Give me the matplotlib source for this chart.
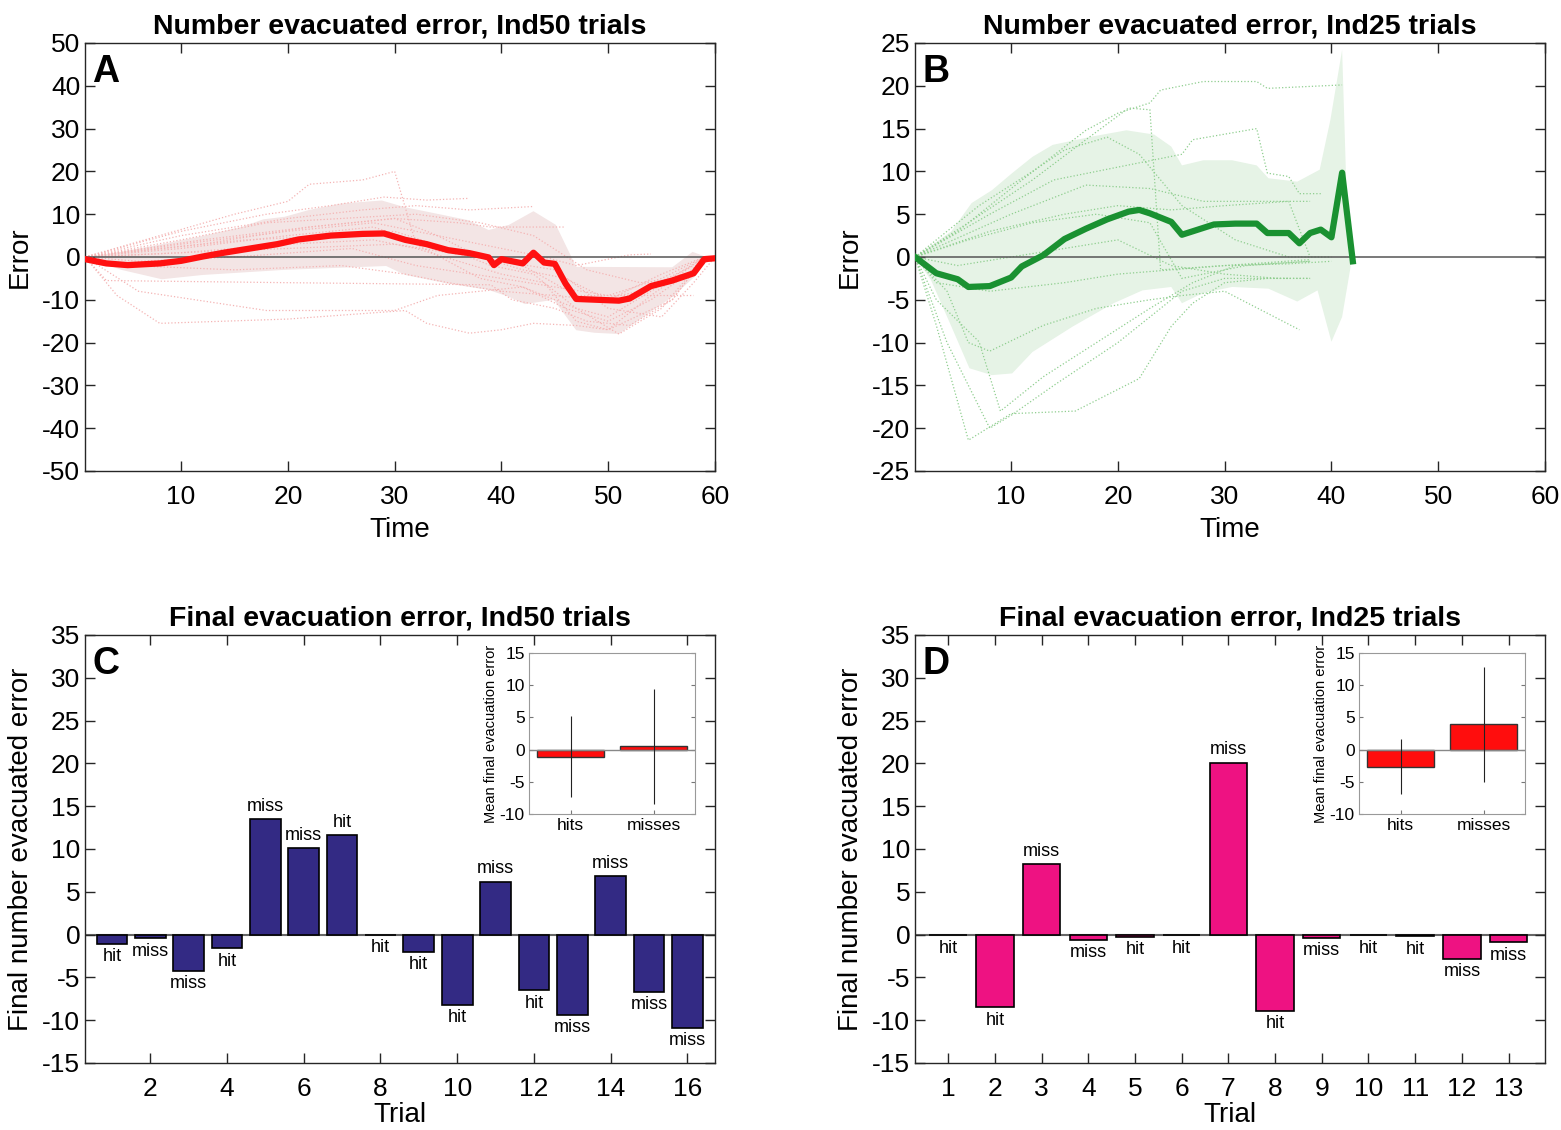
import matplotlib.pyplot as plt

plt.rcParams['font.family'] = ['Liberation Sans', 'DejaVu Sans']
plt.rcParams['axes.unicode_minus'] = False

# ---- panel A: Ind50 error over time ----
mean_a_t = [1, 3, 5, 8, 10, 12, 14, 17, 19, 21, 24, 27, 29, 31, 33, 35, 37, 38.8, 39.3, 40, 42, 43, 44, 45, 46, 47,
            49, 51, 52, 54, 56, 58, 59, 60]
mean_a_v = [-0.5, -1.5, -1.9, -1.5, -0.9, 0.1, 1.0, 2.2, 3.0, 4.1, 5.0, 5.4, 5.5, 4.0, 3.0, 1.6, 0.9, -0.1, -1.9, -0.5,
            -1.5, 1.0, -1.3, -1.6, -6.2, -9.8, -10.0, -10.2, -9.7, -6.8, -5.5, -3.8, -0.5, -0.3]
band_a_t = [1, 4.4, 8.2, 12, 15.8, 17.7, 19.7, 22, 25, 28.8, 31, 33, 36.9, 38.8, 40.7, 43, 45.1, 47, 56, 57.9, 59.2,
            59.2, 58.1, 56, 52.9, 51, 48.7, 47, 44.9, 42.2, 40.7, 38.8, 35, 31, 29.2, 19.7, 12, 8.2, 4.4, 1]
band_a_v = [0, 1.2, 3.0, 4.9, 7.1, 8.8, 9.4, 11.0, 12.5, 13.2, 11.6, 10.6, 8.6, 6.3, 7.5, 10.7, 7.5, -2.3, -2.4, 1.2, 0,
            0, -4.6, -9.3, -14.7, -18.0, -17.7, -17.1, -10.0, -11.0, -9.3, -7.7, -6.2, -4.2, -2.1, -3.0, -4.2, -5.2, -3.0, 0]
trials_a_t = [
    [1, 8, 15, 20, 22, 27, 30, 32, 35, 38, 42, 47, 50, 54, 59],
    [1, 4, 8, 20, 31, 33, 37, 40, 43, 47, 50, 54, 59],
    [1, 3, 20, 39, 41, 45, 48, 52, 56, 59],
    [1, 6, 18, 30, 34, 38, 42, 46, 50, 54, 58, 60],
    [1, 10, 18, 24, 29, 33, 37],
    [1, 10, 20, 27, 32, 37, 43],
    [1, 12, 22, 30, 36, 39, 46],
    [1, 10, 20, 28, 34, 40, 44, 47, 52, 54],
    [1, 10, 20, 28, 33, 38, 42, 47, 52, 58],
    [1, 8, 16, 25, 30, 35, 39, 43, 47, 51, 55, 59],
    [1, 10, 20, 28, 32, 36, 40, 44, 47, 50, 56, 59],
    [1, 12, 22, 30, 34, 38, 42, 46, 50, 55, 59],
    [1, 5, 15, 25, 31, 35, 40, 45, 49, 53, 58],
    [1, 10, 18, 25, 32, 38, 43, 48, 53, 57, 59],
    [1, 6, 15, 26, 32, 40, 45, 50, 55, 59],
    [1, 10, 20, 30, 35, 40, 45, 50, 55, 58, 60],
]
trials_a_v = [
    [0, 5, 10, 13, 17, 18, 20, 3, -1, -5, -7, -12, -14, -8, 0],
    [0, -9, -15.5, -14.5, -12.5, -15.5, -17.8, -17, -15.5, -16, -17, -9, 0],
    [0, -5.5, -6, -6.5, -10, -12, -15, -16, -10, 0],
    [0, -8, -12.5, -12.5, -9, -8, -7, -12, -15, -10, -3, 0],
    [0, 6, 10, 12, 14, 13.3, 13.7],
    [0, 5, 9, 11, 12, 11, 11.8],
    [0, 4, 7, 9, 8, 7, 7],
    [0, 3, 6, 8, 5, 2, 0, -2, 0.5, 0.7],
    [0, 2, 5, 7, 3, 0, -2, -9, -9, -9],
    [0, 2, 4, 5, 6, 2, -2, -4, -12, -18, -12, 0],
    [0, 1, 3, 4, 2, -1, -4, -6, -15, -17, -10, 0],
    [0, 3, 7, 9, 5, 0, -3, -5, -10, -4, 0],
    [0, -2, -3, -2, -4, -6, -8, -9, -10, -8, -2],
    [0, 4, 8, 9, 10, 8, 5, -3, -6, -5, 0],
    [0, -1, 0, 2, -2, -5, -7, -9, -5, 0],
    [0, 1, 2, 3, 1, -1, -3, -12, -14, -6, 0],
]

# ---- panel B: Ind25 error over time ----
mean_b_t = [1, 3, 5, 6, 8, 10, 11, 13, 15, 17, 19, 21, 22, 23, 25, 26, 27, 29, 31, 33, 34, 36, 37, 38, 39, 40, 41, 42]
mean_b_v = [0, -1.9, -2.6, -3.5, -3.4, -2.4, -1.1, 0.2, 2.1, 3.3, 4.4, 5.3, 5.5, 5.1, 4.1, 2.6, 3.0, 3.8, 3.9, 3.9, 2.8,
            2.8, 1.6, 2.8, 3.2, 2.3, 9.85, -0.5]
band_b_t = [1, 4.4, 6.3, 8.2, 10.1, 12, 13.9, 17.7, 20.8, 23.4, 25, 26, 28, 30.7, 33, 34.1, 36.8, 38.9, 39.9, 41, 41.6,
            41.8, 41, 40, 38.7, 36.8, 34.1, 30.7, 28, 26, 25, 22.3, 19.6, 15.8, 12, 10.1, 8.2, 6.1, 4.4, 2.5, 1]
band_b_v = [0, 3.0, 6.3, 7.8, 9.8, 11.7, 13.1, 14.1, 14.8, 14.3, 12.9, 10.7, 11.3, 11.3, 10.7, 9.2, 8.8, 10.2, 16.0,
            24.2, 0, -1.1, -7.0, -9.9, -3.9, -5.2, -3.7, -3.5, -4.2, -5.4, -3.5, -3.9, -5.4, -8.1, -11.1, -13.6, -13.8,
            -13.0, -8.1, -2.7, 0]
trials_b_t = [
    [1, 5, 10, 17, 20, 23, 24, 28, 33, 34, 41],
    [1, 6, 12, 17, 21, 23, 24, 30, 38],
    [1, 8, 14, 18, 22, 26, 27, 33, 34, 36, 37, 39],
    [1, 10, 17, 23, 28, 34, 38],
    [1, 8, 15, 20, 25, 30, 36, 38],
    [1, 7, 12, 15, 19, 22, 26, 31, 36, 40],
    [1, 3, 6, 10, 16, 22, 25, 27, 30, 34, 38],
    [1, 4, 8, 10, 14, 20, 24, 26, 30, 36],
    [1, 3, 7, 9, 13, 18, 23, 27, 31, 38],
    [1, 4, 6, 8, 13, 18, 23, 26, 30, 37],
    [1, 3, 8, 15, 20, 25, 30, 36, 40],
    [1, 5, 10, 15, 20, 25, 30, 35, 38],
    [1, 6, 12, 18, 23, 26, 32, 38],
]
trials_b_v = [
    [0, 3, 8, 14.8, 16.8, 18, 19.5, 20.5, 20.5, 19.7, 20.1],
    [0, 4, 9, 13.7, 17.4, 17.2, -1.5, -1.0, -0.3],
    [0, 5, 9, 10, 11, 12, 13.7, 15, 9.8, 9.4, 7.4, 7.4],
    [0, 5, 8.4, 8.0, 6.5, 6.5, 6.5],
    [0, 3, 5, 6, 5.5, 6, 6.5, 0],
    [0, 6, 10, 12.5, 14, 12, 6, 2, 0, 0],
    [0, -8, -21.4, -18.3, -18, -14.2, -8.1, -5.4, -3, -2.5, -2.5],
    [0, -10, -20, -18.5, -15, -10, -6, -4, -2.5, -2.5],
    [0, -5, -9.9, -18, -14, -10, -6, -3, -1, -0.5],
    [0, -4, -10, -11, -8, -6, -5, -4.5, -4, -8.5],
    [0, -3, -4, -3, -2, -1.5, -1, -0.8, -0.5],
    [0, -1, 0, 1, 2, -1, -2, -2.5, -2.5],
    [0, 2, 4, 5, 4, -2.5, -1, -0.5],
]

# ---- panels C, D: final error per trial ----
trial_c = list(range(1, 17))
final_c = [-1.05, -0.43, -4.2, -1.6, 13.46, 10.08, 11.6, -0.05, -2.0, -8.17, 6.2, -6.5, -9.4, 6.85, -6.65, -10.86]
outcome_c = ['hit', 'miss', 'miss', 'hit', 'miss', 'miss', 'hit', 'hit', 'hit', 'hit', 'miss', 'hit', 'miss',
             'miss', 'miss', 'miss']
trial_d = list(range(1, 14))
final_d = [-0.08, -8.5, 8.25, -0.6, -0.25, -0.1, 20.08, -8.9, -0.35, -0.1, -0.2, -2.8, -0.9]
outcome_d = ['hit', 'hit', 'miss', 'miss', 'hit', 'hit', 'miss', 'hit', 'miss', 'hit', 'hit', 'miss', 'miss']

inset_labels = ['hits', 'misses']
inset_c_mean = [-1.1, 0.52]
inset_c_sd = [6.33, 8.95]
inset_d_mean = [-2.64, 3.94]
inset_d_sd = [4.25, 8.9]

W, H = 1561, 1130
fig = plt.figure(figsize=(W / 100, H / 100), dpi=100)


def box(x0, y0, x1, y1):
    return [x0 / W, 1 - y1 / H, (x1 - x0) / W, (y1 - y0) / H]


def style(ax, labelsize=19, length=7):
    for s in ax.spines.values():
        s.set_color('#262626')
        s.set_linewidth(1)
    ax.tick_params(direction='in', top=True, right=True, length=length, width=1,
                   labelsize=labelsize, colors='#262626', labelcolor='black')
    ax.tick_params(axis='x', pad=10)


def time_panel(ax, trials_t, trials_v, band_t, band_v, mt, mv, c_line, c_band, c_trial, ylim, yticks,
               title, letter):
    ax.fill(band_t, band_v, color=c_band, lw=0, zorder=1)
    for tt, vv in zip(trials_t, trials_v):
        ax.plot(tt, vv, ls=':', lw=0.9, color=c_trial, zorder=2)
    ax.axhline(0, color='#555555', lw=1.1, zorder=3)
    ax.plot(mt, mv, color=c_line, lw=4.5, zorder=4, solid_joinstyle='round')
    ax.set_xlim(1, 60)
    ax.set_ylim(*ylim)
    ax.set_xticks([10, 20, 30, 40, 50, 60])
    ax.set_yticks(yticks)
    ax.set_xlabel('Time', fontsize=20, labelpad=6)
    ax.set_ylabel('Error', fontsize=20, labelpad=7)
    ax.set_title(title, fontsize=20.5, fontweight='bold', pad=7)
    ax.text(0.012, 0.975, letter, transform=ax.transAxes, fontsize=27, fontweight='bold', va='top', ha='left')
    style(ax)


ax_a = fig.add_axes(box(85, 43, 715, 471))
time_panel(ax_a, trials_a_t, trials_a_v, band_a_t, band_a_v, mean_a_t, mean_a_v, '#ff1010', '#f3e5e5',
           '#f4b4b4', (-50, 50), range(-50, 51, 10), 'Number evacuated error, Ind50 trials', 'A')
ax_b = fig.add_axes(box(915, 43, 1545, 471))
time_panel(ax_b, trials_b_t, trials_b_v, band_b_t, band_b_v, mean_b_t, mean_b_v, '#1a9131', '#e6f3e6',
           '#8fce8f', (-25, 25), range(-25, 26, 5), 'Number evacuated error, Ind25 trials', 'B')


def bar_panel(ax, xs, vals, outcomes, color, xlim, xticks, title, letter):
    ax.axhline(0, color='#666666', lw=1.5, zorder=1)
    ax.bar(xs, vals, width=0.8, color=color, edgecolor='black', lw=1.2, zorder=2)
    for x, v, o in zip(xs, vals, outcomes):
        if v > 0:
            ax.text(x, v + 1.5, o, ha='center', va='center', fontsize=13)
        else:
            ax.text(x, v - 1.5, o, ha='center', va='center', fontsize=13)
    ax.set_xlim(*xlim)
    ax.set_ylim(-15, 35)
    ax.set_xticks(xticks)
    ax.set_yticks(range(-15, 36, 5))
    ax.set_xlabel('Trial', fontsize=20, labelpad=1)
    ax.set_ylabel('Final number evacuated error', fontsize=20, labelpad=6)
    ax.set_title(title, fontsize=20.5, fontweight='bold', pad=7)
    ax.text(0.012, 0.975, letter, transform=ax.transAxes, fontsize=27, fontweight='bold', va='top', ha='left')
    style(ax)


def inset(rect, means, sds):
    ax = fig.add_axes(rect)
    ax.bar([1, 2], means, width=0.8, color='#ff0d0d', edgecolor='#333333', lw=1, zorder=2)
    ax.axhline(0, color='#888888', lw=1, zorder=3)
    ax.errorbar([1, 2], means, yerr=sds, fmt='none', ecolor='#222222', elinewidth=0.8, capsize=0, zorder=4)
    ax.set_xlim(0.5, 2.5)
    ax.set_ylim(-10, 15)
    ax.set_yticks(range(-10, 16, 5))
    ax.set_xticks([1, 2])
    ax.set_xticklabels(inset_labels)
    ax.set_ylabel('Mean final evacuation error', fontsize=10.5, labelpad=1)
    for s in ax.spines.values():
        s.set_color('#999999')
    ax.tick_params(direction='in', right=True, top=False, length=3, width=0.8, labelsize=12.5,
                   colors='#777777', labelcolor='black', pad=3)


ax_c = fig.add_axes(box(85, 635, 715, 1063))
bar_panel(ax_c, trial_c, final_c, outcome_c, '#332a84', (0.3, 16.72), range(2, 17, 2),
          'Final evacuation error, Ind50 trials', 'C')
inset(box(529, 653, 695, 814), inset_c_mean, inset_c_sd)

ax_d = fig.add_axes(box(915, 635, 1545, 1063))
bar_panel(ax_d, trial_d, final_d, outcome_d, '#ee1282', (0.29, 13.78), range(1, 14),
          'Final evacuation error, Ind25 trials', 'D')
inset(box(1359, 653, 1525, 814), inset_d_mean, inset_d_sd)

fig.savefig('out.png', dpi=100)
